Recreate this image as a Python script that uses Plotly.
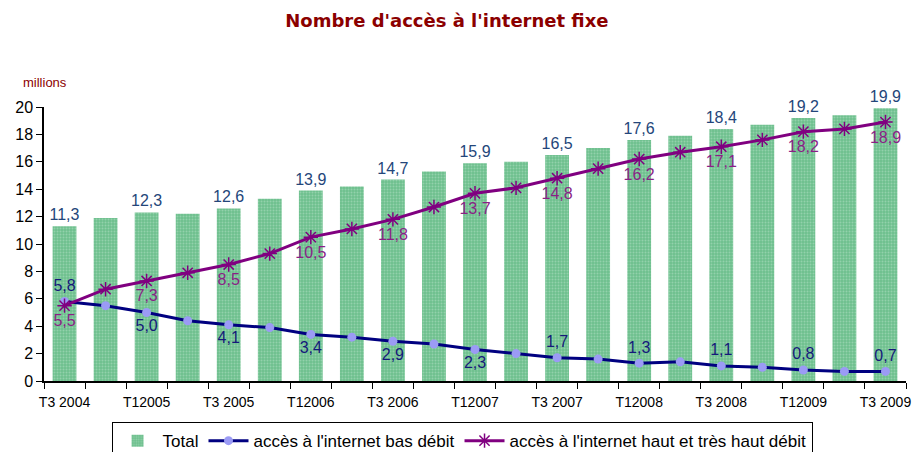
import plotly.graph_objects as go

quarters = ['T3 2004', 'T4 2004', 'T1 2005', 'T2 2005', 'T3 2005', 'T4 2005', 'T1 2006',
            'T2 2006', 'T3 2006', 'T4 2006', 'T1 2007', 'T2 2007', 'T3 2007', 'T4 2007',
            'T1 2008', 'T2 2008', 'T3 2008', 'T4 2008', 'T1 2009', 'T2 2009', 'T3 2009']
tick_labels = ['T3 2004', '', 'T12005', '', 'T3 2005', '', 'T12006', '', 'T3 2006', '', 'T12007',
               '', 'T3 2007', '', 'T12008', '', 'T3 2008', '', 'T12009', '', 'T3 2009']
total = [11.3, 11.9, 12.3, 12.2, 12.6, 13.3, 13.9, 14.2, 14.7, 15.3, 15.9,
         16.0, 16.5, 17.0, 17.6, 17.9, 18.4, 18.7, 19.2, 19.4, 19.9]
bas_debit = [5.8, 5.5, 5.0, 4.4, 4.1, 3.9, 3.4, 3.2, 2.9, 2.7, 2.3,
             2.0, 1.7, 1.6, 1.3, 1.4, 1.1, 1.0, 0.8, 0.7, 0.7]
haut_debit = [5.5, 6.7, 7.3, 7.9, 8.5, 9.3, 10.5, 11.1, 11.8, 12.7, 13.7,
              14.1, 14.8, 15.5, 16.2, 16.7, 17.1, 17.6, 18.2, 18.4, 18.9]


def lbl(vals):
    # only every other quarter is labelled, with a decimal comma
    return [f'{v:.1f}'.replace('.', ',') if i % 2 == 0 else '' for i, v in enumerate(vals)]


bas_pos = ['top center' if (i == 0 or i >= 12) else 'bottom center' for i in range(len(quarters))]

fig = go.Figure()
fig.add_trace(go.Bar(
    x=quarters, y=total, name='Total', text=lbl(total), textposition='outside',
    constraintext='none', textangle=0,
    textfont=dict(color='#24467A', size=16, family='Liberation Sans'),
    marker=dict(color='#6DBF8E', line=dict(width=0),
                pattern=dict(shape='.', fgcolor='#B9E3C8', size=3, solidity=0.35)),
    cliponaxis=False))
fig.add_trace(go.Scatter(
    x=quarters, y=bas_debit, name="accès à l'internet bas débit", mode='lines+markers+text',
    text=lbl(bas_debit), textposition=bas_pos,
    textfont=dict(color='#15197A', size=16, family='Liberation Sans'),
    line=dict(color='#000080', width=3),
    marker=dict(symbol='circle', size=9, color='#9B9BF5'), cliponaxis=False))
fig.add_trace(go.Scatter(
    x=quarters, y=haut_debit, name="accès à l'internet haut et très haut débit",
    mode='lines+markers+text', text=lbl(haut_debit), textposition='bottom center',
    textfont=dict(color='#8A1F86', size=16, family='Liberation Sans'),
    line=dict(color='#800080', width=3),
    marker=dict(symbol='asterisk-open', size=12, line=dict(color='#800080', width=1.5)),
    cliponaxis=False))

fig.update_layout(
    width=912, height=452,
    margin=dict(l=44, r=6, t=107, b=71, autoexpand=False),
    plot_bgcolor='white', paper_bgcolor='white',
    bargap=0.42,
    title=dict(text="Nombre d'accès à l'internet fixe", x=0.49, xanchor='center',
               y=0.955, yanchor='middle',
               font=dict(family='DejaVu Sans', size=18, color='#8B0000', weight='bold')),
    legend=dict(orientation='h', x=0.485, xanchor='center', y=-0.15, yanchor='top',
                bordercolor='black', borderwidth=1,
                font=dict(family='Liberation Sans Narrow, Liberation Sans', size=17, color='black'),
                itemwidth=40, tracegroupgap=0),
    annotations=[dict(text='millions', xref='paper', yref='paper', x=-0.027, y=1.09,
                      xanchor='left', yanchor='middle', showarrow=False,
                      font=dict(family='Liberation Sans', size=13, color='#8B0000'))],
)
fig.update_xaxes(type='category', tickmode='array', tickvals=quarters, ticktext=tick_labels,
                 range=[-0.5, len(quarters) - 0.5],
                 tickson='boundaries', ticks='outside', ticklen=6, tickcolor='black', automargin=False,
                 ticklabelstandoff=7,
                 showline=True, linecolor='black', linewidth=1.5, showgrid=False,
                 tickangle=0, tickfont=dict(family='Liberation Sans Narrow, Liberation Sans', size=14, color='black'))
fig.update_yaxes(range=[0, 20], dtick=2, ticks='outside', ticklen=6, tickcolor='black', automargin=False,
                 showline=True, linecolor='black', linewidth=1.5, showgrid=False, zeroline=False,
                 tickfont=dict(family='Liberation Sans', size=16, color='black'))

fig.write_html('out.html', config={'displayModeBar': False},
               post_script="document.body.style.margin='0';")
